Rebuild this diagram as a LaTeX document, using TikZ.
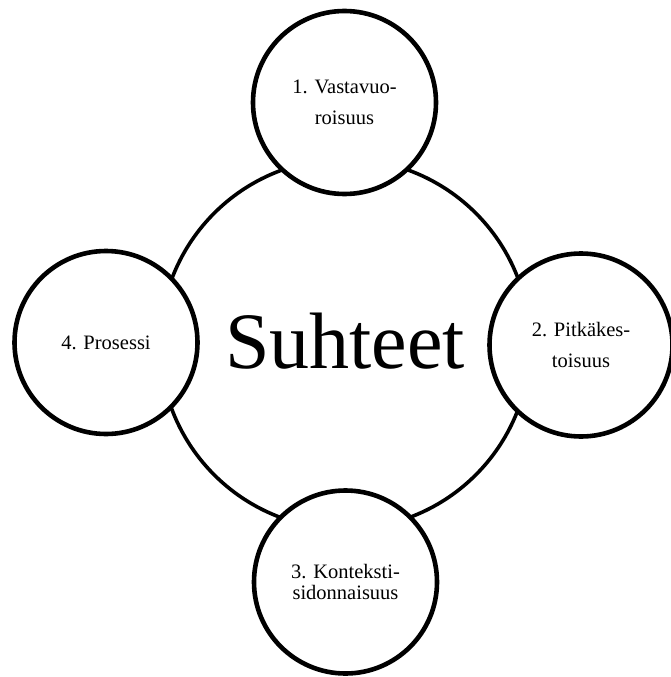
\documentclass[tikz,border=0pt]{standalone}
\usepackage{fontspec}
\setmainfont{Liberation Serif}
\tikzset{
  bigcirc/.style={circle, draw=black, line width=3.6pt, fill=white, minimum size=370pt, inner sep=0pt, text depth=6pt, font=\fontsize{80}{80}\selectfont},
  smallcirc/.style={circle, draw=black, line width=4.6pt, fill=white, minimum size=183pt, inner sep=0pt, align=center},
  widetext/.style={font=\fontsize{20.5}{31}\selectfont},
  tighttext/.style={font=\fontsize{20.5}{21.5}\selectfont}
}
\begin{document}
\begin{tikzpicture}[x=1pt,y=-1pt]
\useasboundingbox (0,0) rectangle (671,677);
\node[bigcirc] (center) at (345,344) {Suhteet};
\node[smallcirc, widetext] (top) at (344.5,102.5) {1. Vastavuo-\\roisuus};
\node[smallcirc, widetext] (right) at (581,345) {2. Pitkäkes-\\toisuus};
\node[smallcirc, tighttext] (bottom) at (345.5,582) {3. Konteksti-\\sidonnaisuus};
\node[smallcirc, widetext] (left) at (106,342.5) {4. Prosessi};
\end{tikzpicture}
\end{document}
